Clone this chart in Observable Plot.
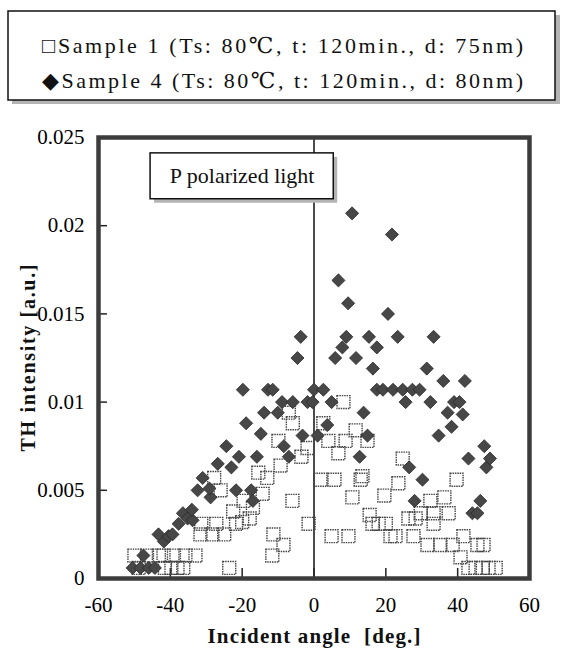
<!DOCTYPE html>
<html><head><meta charset="utf-8">
<script src="https://cdn.jsdelivr.net/npm/d3@7"></script>
<script src="https://cdn.jsdelivr.net/npm/@observablehq/plot@0.6"></script>
<style>
body{margin:0;background:#fff;width:563px;height:648px;overflow:hidden;position:relative;font-family:"Liberation Serif","Times New Roman","DejaVu Serif",serif;}
#legend{position:absolute;left:0;top:0;width:563px;height:115px;}
#chart{position:absolute;left:0;top:115px;}
</style></head><body>
<div id="legend"></div><div id="chart"></div>
<script>
// ---- data ----
const legendLabels = ["□Sample 1 (Ts: 80℃, t: 120min., d: 75nm)", "◆Sample 4 (Ts: 80℃, t: 120min., d: 80nm)"];
const xTicks = [-60, -40, -20, 0, 20, 40, 60];
const yTicks = [0, 0.005, 0.01, 0.015, 0.02, 0.025];
const xTitle = "Incident angle\u00a0\u00a0[deg.]";
const yTitle = "TH intensity [a.u.]";
const annotationLabel = "P polarized light";
const annotationX = [-45.5, 5.5];
const annotationY = [0.0215, 0.0241];

// Sample 1 (open squares)
const sample1Angle = [-50,-48.8,-46.5,-43.2,-41.5,-41.9,-39.7,-39,-38,-35.8,-36.4,-33,-31.6,-28.3,-31.4,-27.2,-27.8,-26,-25,-23.6,-21.7,-22.5,-19.6,-17,-17.9,-20,-15.5,-13,-14.3,-11.3,-11.6,-9.9,-9.3,-8.5,-7,-5.9,-6,-3.5,-1.8,-1.5,
  2.6,4,8.8,6.8,8.2,11.6,14.9,1.8,5.7,13.5,13,10.7,24.7,23.5,19.6,15.5,16.3,18,20,21.3,22.7,4.9,9.6,39.7,32.4,36.3,37.5,33.3,26.3,28.3,29.7,33.3,27.7,31.6,35.2,38.6,41.6,45.5,47.2,40.8,43,45,47,48.6,50.6];
const sample1Value = [0.0013,0.0006,0.0013,0.0013,0.0006,0.0013,0.0006,0.0013,0.0006,0.0013,0.0006,0.0013,0.0025,0.0025,0.0031,0.0031,0.0057,0.0050,0.0025,0.0006,0.0031,0.0038,0.0044,0.0040,0.0034,0.0032,0.0060,0.0057,0.0048,0.0025,0.0013,0.0078,0.0064,0.0019,0.0094,0.0088,0.0044,0.0069,0.0074,0.0031,
  0.0088,0.0078,0.0078,0.0071,0.0100,0.0084,0.0078,0.0056,0.0056,0.0058,0.0056,0.0046,0.0068,0.0054,0.0047,0.0036,0.0031,0.0031,0.0031,0.0024,0.0024,0.0024,0.0024,0.0056,0.0044,0.0046,0.0037,0.0037,0.0034,0.0034,0.0037,0.0031,0.0024,0.0019,0.0019,0.0019,0.0024,0.0019,0.0019,0.0012,0.0006,0.0006,0.0006,0.0006,0.0006];

// Sample 4 (filled diamonds)
const sample4Angle = [-50.5,-48.3,-46,-44.3,-47.5,-41.8,-43.3,-40.5,-39.4,-37.7,-36.5,-35.2,-33.8,-34,-32.4,-28.8,-29.1,-31,-26.8,-23,-24.4,-21.7,-20.9,-17.5,-17,-15.9,-18.9,-14.8,-19.8,-13.9,-10.1,-12.8,-11.5,-8.9,-5.9,-8.4,-7,-4.6,-3.7,-3.2,-1.8,-0.4,0,1,2.6,3.7,
  4.9,5.9,6.8,7.9,9,9.5,10.6,11.7,12.7,13.8,14.9,15.3,16.4,17.5,17.5,19.2,20.6,21.7,22,23.3,24.7,25.5,26.5,27.4,28,29.4,30.2,31.4,32.4,33.3,34.7,36,37.2,38.3,39,40.5,41.4,42,43,44.1,45.5,46.3,47.4,48,49];
const sample4Value = [0.0006,0.0006,0.0006,0.0006,0.0013,0.0021,0.0025,0.0024,0.0025,0.0031,0.0037,0.0034,0.0033,0.0039,0.0050,0.0046,0.0051,0.0057,0.0065,0.0063,0.0075,0.0050,0.0069,0.0050,0.0044,0.0069,0.0088,0.0082,0.0107,0.0094,0.0094,0.0107,0.0107,0.0100,0.0100,0.0075,0.0069,0.0125,0.0137,0.0081,0.0100,0.0100,0.0107,0.0081,0.0107,0.0087,
  0.0100,0.0125,0.0169,0.0131,0.0137,0.0156,0.0207,0.0125,0.0069,0.0094,0.0081,0.0137,0.0119,0.0131,0.0107,0.0107,0.0150,0.0195,0.0107,0.0137,0.0107,0.0100,0.0063,0.0107,0.0044,0.0107,0.0056,0.0119,0.0100,0.0137,0.0081,0.0112,0.0094,0.0086,0.0100,0.0100,0.0093,0.0112,0.0068,0.0037,0.0037,0.0044,0.0075,0.0063,0.0068];

const SERIF = '"Liberation Serif", "Times New Roman", "DejaVu Serif", serif';

// ---- legend ----
const lg = d3.select("#legend").append("svg").attr("width", 563).attr("height", 115);
lg.append("rect").attr("x", 12).attr("y", 15).attr("width", 548).attr("height", 89).attr("fill", "#b4b4b4");
lg.append("rect").attr("x", 8).attr("y", 11).attr("width", 547).attr("height", 89).attr("fill", "#fff").attr("stroke", "#111").attr("stroke-width", 1.5);
lg.selectAll("text.l").data(legendLabels).join("text")
  .attr("x", 42).attr("y", (d, i) => 53 + i * 35)
  .attr("textLength", 481).attr("lengthAdjust", "spacing")
  .style("font-family", SERIF).attr("font-size", 22).attr("fill", "#111")
  .text(d => d);

// ---- chart ----
const sample1 = sample1Angle.map((a, i) => ({angle: a, value: sample1Value[i]}));
const sample4 = sample4Angle.map((a, i) => ({angle: a, value: sample4Value[i]}));
const annot = [{label: annotationLabel, x1: annotationX[0], x2: annotationX[1], y1: annotationY[0], y2: annotationY[1]}];

const chart = Plot.plot({
  width: 563, height: 533,
  marginTop: 22, marginBottom: 70, marginLeft: 98, marginRight: 34,
  style: {fontFamily: SERIF, fontSize: "21px", color: "#000", background: "#fff"},
  x: {domain: [xTicks[0], xTicks[xTicks.length - 1]], ticks: xTicks, tickSize: 0, tickPadding: 19, tickFormat: d => String(d), label: null},
  y: {domain: [yTicks[0], yTicks[yTicks.length - 1]], ticks: yTicks, tickSize: 0, tickPadding: 14, tickFormat: d => String(+d.toFixed(3)), label: null},
  marks: [
    Plot.ruleX([0], {stroke: "#111", strokeWidth: 1.5}),
    Plot.ruleX(xTicks.slice(1, -1), {x: d => d, y1: 0, y2: 0.00057, stroke: "#222", strokeWidth: 1.5}),
    Plot.ruleY(yTicks.slice(1, -1), {y: d => d, x1: -60, x2: -57.5, stroke: "#222", strokeWidth: 1.5}),
    Plot.rect(annot, {x1: "x1", x2: "x2", y1: "y1", y2: "y2", fill: "#b4b4b4", dx: 4, dy: 4}),
    Plot.rect(annot, {x1: "x1", x2: "x2", y1: "y1", y2: "y2", fill: "#fff", stroke: "#111", strokeWidth: 1.5}),
    Plot.text(annot, {x: d => (d.x1 + d.x2) / 2, y: d => (d.y1 + d.y2) / 2, text: "label", fontSize: 22, fill: "#111"}),
    Plot.dot(sample1, {x: "angle", y: "value", symbol: "square", r: 7.3, fill: "none", stroke: "#444", strokeWidth: 1.4, strokeDasharray: "1.5,0.9"}),
    Plot.dot(sample4, {x: "angle", y: "value", symbol: "diamond2", r: 5.9, fill: "#474747", stroke: "#2a2a2a", strokeWidth: 0.8}),
    Plot.frame({stroke: "#3c3c3c", strokeWidth: 4.5}),
    Plot.text([yTitle], {text: d => d, frameAnchor: "left", dx: -70, rotate: -90, textAnchor: "middle", lineAnchor: "middle", fontWeight: "bold", fontSize: 20, fill: "#111"}),
    Plot.text([xTitle], {text: d => d, frameAnchor: "bottom", dy: 58, textAnchor: "middle", lineAnchor: "middle", fontWeight: "bold", fontSize: 21, fill: "#111"})
  ]
});
d3.select(chart).selectAll("text").each(function () {
  const t = this.textContent;
  if (t === xTitle) d3.select(this).attr("textLength", 213).attr("lengthAdjust", "spacing");
  if (t === yTitle) d3.select(this).attr("textLength", 187).attr("lengthAdjust", "spacing");
});
document.getElementById("chart").appendChild(chart);
</script>
</body></html>
